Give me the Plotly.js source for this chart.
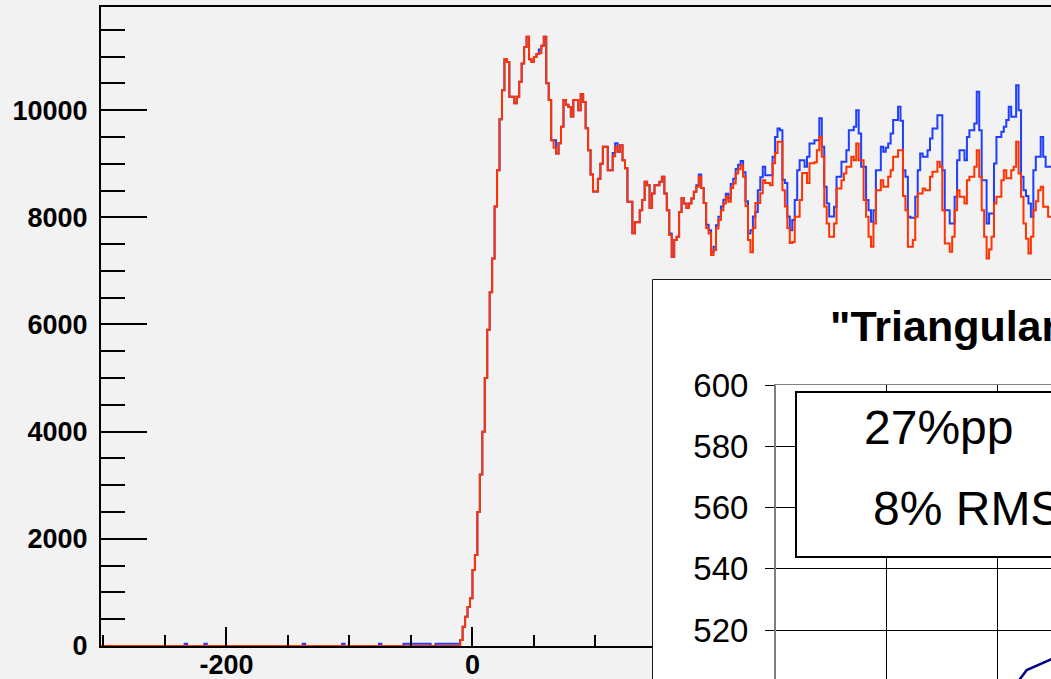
<!DOCTYPE html>
<html><head><meta charset="utf-8">
<script src="https://cdn.plot.ly/plotly-3.0.1.min.js"></script>
<style>
html,body{margin:0;padding:0;width:1051px;height:679px;overflow:hidden;background:#f2f2f2;}
#main{position:absolute;left:0;top:0;width:1400px;height:679px;}
#inset{position:absolute;left:652px;top:279px;width:700px;height:500px;}
</style></head><body>
<div id="main"></div><div id="inset"></div>
<script>
// ---- main histogram data (bin width 2, first bin low edge -302) ----
const binStart = -302;
const binWidth = 2;
const leadRed = [
 0,0,0,0,0,0,0,0,0,0, 0,0,0,0,0,0,0,0,0,0, 0,0,0,0,0,0,0,0,0,0,
 0,0,0,0,0,0,0,0,0,0, 0,0,0,0,0,0,0,0,0,0, 0,0,0,0,0,0,0,0,0,0,
 0,0,0,0,0,0,0,0,0,0, 0,0,0,0,0,0,0,0,0,0, 0,0,0,0,0,0,0,0,0,0,
 0,0,0,0,0,0,0,0,0,0, 0,0,0,0,0,0,0,0,0,0, 0,0,0,0,0,0,0,0,0,0,
 0,0,0,0,0,0,0,0,0,0, 0,0,0,0,0,0,0,0,0,0, 0,0,0,0,0,0
];
const leadBlue = [
 0,0,0,0,0,0,0,0,0,0, 0,0,0,0,0,0,0,0,0,0, 0,0,0,0,0,0,0,0,0,0,
 0,0,0,0,40,0,0,0,0,0, 0,0,40,0,0,0,0,0,0,0, 0,0,0,0,0,0,0,0,0,0,
 0,0,0,0,0,0,0,0,0,0, 0,0,0,0,0,0,0,0,0,0, 0,0,40,0,0,0,0,0,0,0,
 0,0,0,0,0,0,0,0,40,0, 0,0,0,0,0,0,0,0,0,0, 0,0,0,40,0,0,0,0,0,0,
 0,0,0,40,40,40,40,40,40,40, 40,40,40,40,0,0,40,40,40,40, 40,40,40,40,40,40
];
const redCounts = [
 112,360,545,730,890,1420,1700,2500,3200,4000,
 5000,5900,6600,7230,8200,8880,9830,10370,10950,10900,
 10250,10250,10130,10250,10530,10870,11180,11370,10950,10900,
 10990,11050,11060,11200,11370,10500,10190,9440,9300,9190,
 9380,9690,10190,10100,10060,9880,10190,10190,10000,10300,
 10150,9660,9250,8800,8480,8480,8720,9000,9316,9316,
 8880,8880,9140,9316,9222,9347,9067,8918,8289,8289,
 7705,7910,7910,8134,8321,8662,8600,8172,8446,8600,
 8600,8662,8756,8446,8134,7668,7263,7575,7636,8100,
 8358,8260,8172,8260,8352,8476,8570,8756,8545,8265,
 7800,7700,7295,7388,7793,7948,8134,8259,8383,8289,
 8545,8632,8818,8899,8974,8756,8209,7575,7350,7800,
 8265,8265,8450,8694,8640,8640,8600,9010,9200,9410,
 9410,8507,8200,7800,7520,7540,8010,8010,8321,8825,
 8825,8640,9010,9010,9030,9254,9500,9130,8200,7886,
 7636,7636,7886,8538,8538,8694,8818,8942,8942,9129,
 9067,9378,9067,9067,8321,8010,7636,7450,7886,8507,
 8507,8694,8570,8570,8756,8880,9130,9130,9254,9254,
 8400,8134,7450,7450,7575,8010,8446,8446,8540,8507,
 8507,8756,8850,8850,9035,8942,8134,7513,7513,7357,
 7636,8134,8507,8383,8383,8259,8694,8756,8756,8942,
 9254,8756,8134,7636,7233,7400,7636,8259,8383,8383,
 8694,8880,8730,8730,8880,8942,9410,8818,8383,7886,
 7600,7326,7636,8134,8300,8507,8570,8196,8196,8010,
 8010
];
const blueCounts = [
 112,360,545,730,890,1420,1700,2500,3200,4000,
 5000,5900,6600,7230,8200,8880,9830,10370,10950,10900,
 10250,10250,10130,10250,10530,10870,11180,11370,10950,10900,
 10990,11050,11130,11200,11370,10500,10190,9440,9440,9190,
 9380,9690,10190,10100,10060,9880,10190,10190,10000,10300,
 10150,9660,9250,8800,8480,8480,8720,9000,9316,9316,
 8880,8880,9200,9380,9222,9347,9067,8918,8289,8289,
 7705,7910,7910,8134,8321,8662,8600,8172,8446,8600,
 8600,8662,8756,8446,8134,7700,7263,7575,7636,8100,
 8358,8260,8172,8260,8352,8476,8600,8800,8545,8265,
 7860,7760,7350,7450,7850,8010,8200,8330,8440,8350,
 8620,8720,8900,8980,9050,8840,8300,7700,7760,8013,
 8100,8507,8750,8942,8787,8787,8787,9129,9500,9658,
 9627,8700,8640,8013,7761,7948,8321,8880,9067,9067,
 8942,9129,9378,9378,9440,9440,9850,9316,8570,8259,
 8013,8013,8196,8756,8756,9035,9035,9254,9627,9627,
 9690,10000,9565,8942,8942,8321,8134,7916,8134,8880,
 8880,9316,9222,9300,9378,9565,9814,9814,10062,9800,
 8880,8756,8010,7990,7990,8383,8880,9192,9130,9130,
 9254,9470,9658,9658,9907,9907,8880,8134,8134,7886,
 7886,8383,9067,9254,9254,9067,9500,9627,9627,9752,
 10342,9627,8694,8694,7886,8072,8072,9005,9500,9500,
 9596,9690,9814,10062,9875,9875,10466,10000,8756,8507,
 8400,8259,8010,8880,9129,9129,9500,9129,8942,8942,
 8942
];
const mainXTicks = [-200, 0];
const mainYTicks = [0, 2000, 4000, 6000, 8000, 10000];

// ---- inset (Excel chart) data ----
const insetTitle = '"Triangular" Modulation';
const insetX = [2.1, 2.265, 2.484, 2.9];
const insetY = [499, 506.9, 510.4, 516];
const insetYTicks = [480, 500, 520, 540, 560, 580, 600];
const boxLine1 = '27%pp';
const boxLine2 = '8% RMS';

function stepXY(counts) {
  const xs = counts.map((_, i) => binStart + i * binWidth);
  xs.push(binStart + counts.length * binWidth);
  const ys = counts.slice();
  ys.push(counts[counts.length - 1]);
  return {xs, ys};
}
const red = stepXY(leadRed.concat(redCounts));
const blue = stepXY(leadBlue.concat(blueCounts));

const FONT = 'Liberation Sans, Arial, Helvetica, sans-serif';
const mainW = 1400, mainH = 679;
const mL = 101, mT = 7, mB = 33, mR = 0;
const pxPerUnit = 1.23;
const xMax = binStart + (mainW - mL - mR) / pxPerUnit;

Plotly.newPlot('main', [
  {x: blue.xs, y: blue.ys, type: 'scatter', mode: 'lines',
   line: {shape: 'hv', color: '#1f3fff', width: 2}},
  {x: red.xs, y: red.ys, type: 'scatter', mode: 'lines',
   line: {shape: 'hv', color: '#ff3300', width: 2}}
], {
  width: mainW, height: mainH,
  margin: {l: mL, r: mR, t: mT, b: mB, pad: 0},
  paper_bgcolor: '#f2f2f2', plot_bgcolor: '#f2f2f2',
  showlegend: false, hovermode: false,
  xaxis: {range: [binStart, xMax], tickmode: 'array', tickvals: mainXTicks,
    ticktext: mainXTicks.map(String),
    ticks: 'inside', ticklen: 19, tickwidth: 2, tickcolor: '#000',
    showline: true, linewidth: 2, linecolor: '#000', mirror: true,
    showgrid: false, zeroline: false, ticklabelstandoff: -6,
    tickfont: {family: FONT, size: 27, weight: 'bold', color: '#000'},
    minor: {tick0: 0, dtick: 50, ticks: 'inside', ticklen: 11, tickwidth: 2, tickcolor: '#000', showgrid: false}},
  yaxis: {range: [0, 11925], tickmode: 'array', tickvals: mainYTicks,
    ticktext: mainYTicks.map(String),
    ticks: 'inside', ticklen: 46, tickwidth: 2, tickcolor: '#000',
    showline: true, linewidth: 2, linecolor: '#000', mirror: true,
    showgrid: false, zeroline: false, ticklabelstandoff: 6,
    tickfont: {family: FONT, size: 27, weight: 'bold', color: '#000'},
    minor: {tick0: 0, dtick: 500, ticks: 'inside', ticklen: 24, tickwidth: 2, tickcolor: '#000', showgrid: false}}
}, {staticPlot: true});

// ---- inset ----
const iW = 700, iH = 500, iL = 124, iT = 106;
const iPW = iW - iL, iPH = iH - iT;
const pxPerX = 110.7, pxPerY = 61.25 / 20;
const yLow = 600 - iPH / pxPerY;
const toX = px => (px - 776) / pxPerX;
const toY = py => 600 - (py - 385) / pxPerY;

Plotly.newPlot('inset', [
  {x: insetX, y: insetY, type: 'scatter', mode: 'lines',
   line: {color: '#000080', width: 2.5}}
], {
  width: iW, height: iH,
  margin: {l: iL, r: 0, t: iT, b: 0, pad: 0},
  paper_bgcolor: '#ffffff', plot_bgcolor: '#ffffff',
  showlegend: false, hovermode: false,
  title: {text: '<b>' + insetTitle + '</b>', xref: 'container', yref: 'container',
    x: 178 / iW, xanchor: 'left', y: 1 - 47 / iH, yanchor: 'middle',
    font: {family: FONT, size: 43, color: '#000'}},
  xaxis: {range: [0, iPW / pxPerX], dtick: 1, tick0: 0, showticklabels: false,
    showgrid: true, gridcolor: '#000', gridwidth: 1, zeroline: false,
    showline: true, linecolor: '#808080', linewidth: 1, mirror: true, ticks: ''},
  yaxis: {range: [yLow, 600], tickmode: 'array', tickvals: insetYTicks,
    ticks: 'outside', ticklen: 9, tickwidth: 1, tickcolor: '#000',
    showgrid: true, gridcolor: '#000', gridwidth: 1, zeroline: false,
    showline: true, linecolor: '#808080', linewidth: 2, mirror: true,
    ticklabelstandoff: 10,
    tickfont: {family: FONT, size: 33, color: '#000'}},
  shapes: [
    {type: 'rect', xref: 'x', yref: 'y', x0: toX(796), x1: 6, y0: toY(557), y1: toY(392),
     line: {color: '#000', width: 2}, fillcolor: '#ffffff', layer: 'above'},
    {type: 'rect', xref: 'paper', yref: 'paper',
     x0: (0.5 - iL) / iPW, x1: 2, y0: -1, y1: 1 + (iT - 0.5) / iPH,
     line: {color: '#1a1a1a', width: 1}, fillcolor: 'rgba(0,0,0,0)', layer: 'above'}
  ],
  annotations: [
    {text: boxLine1, xref: 'x', yref: 'y', x: toX(862), y: toY(427.5),
     xanchor: 'left', yanchor: 'middle', showarrow: false,
     font: {family: FONT, size: 48, color: '#000'}},
    {text: boxLine2, xref: 'x', yref: 'y', x: toX(871), y: toY(508.4),
     xanchor: 'left', yanchor: 'middle', showarrow: false,
     font: {family: FONT, size: 48, color: '#000'}}
  ]
}, {staticPlot: true});
</script></body></html>
